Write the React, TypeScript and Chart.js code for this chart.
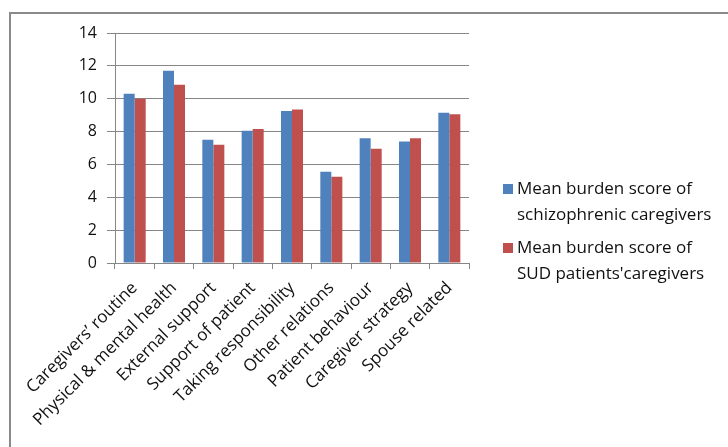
import React, { useEffect, useRef } from "react";
import { Chart, registerables } from "chart.js";

Chart.register(...registerables);

const categories = [
  "Caregivers’ routine",
  "Physical & mental health",
  "External support",
  "Support of patient",
  "Taking responsibility",
  "Other relations",
  "Patient behaviour",
  "Caregiver strategy",
  "Spouse related",
];
const schizophrenicScores = [10.3, 11.7, 7.5, 8.05, 9.25, 5.55, 7.6, 7.4, 9.15];
const sudScores = [10.0, 10.85, 7.2, 8.15, 9.35, 5.25, 6.95, 7.6, 9.05];
const seriesLabels = [
  "Mean burden score of schizophrenic caregivers",
  "Mean burden score of SUD patients'caregivers",
];
const legendLines = [
  ["Mean burden score of", "schizophrenic caregivers"],
  ["Mean burden score of", "SUD patients'caregivers"],
];
const yMin = 0;
const yMax = 14;
const yStep = 2;

const BLUE = "#4F81BD";
const RED = "#C0504D";
const GRID = "#868686";
const FONT = "'Open Sans'";

const legendPlugin = {
  id: "customLegend",
  afterDraw(chart: any) {
    const ctx = chart.ctx;
    ctx.save();
    ctx.font = `17px ${FONT}`;
    ctx.textBaseline = "middle";
    ctx.textAlign = "left";
    chart.data.datasets.forEach((ds: any, i: number) => {
      const cy = 189 + i * 59;
      ctx.fillStyle = ds.backgroundColor;
      ctx.fillRect(503, cy - 5, 10, 10);
      ctx.fillStyle = "#111";
      legendLines[i].forEach((line, j) => ctx.fillText(line, 517, cy + j * 26));
    });
    ctx.restore();
  },
};

export default function App() {
  const ref = useRef<HTMLCanvasElement>(null);
  useEffect(() => {
    if (!ref.current) return;
    const chart = new Chart(ref.current, {
      type: "bar",
      data: {
        labels: categories,
        datasets: [
          { label: seriesLabels[0], data: schizophrenicScores, backgroundColor: BLUE, borderWidth: 0 },
          { label: seriesLabels[1], data: sudScores, backgroundColor: RED, borderWidth: 0 },
        ],
      },
      options: {
        responsive: false,
        animation: false,
        layout: { padding: { left: 0, right: 259, top: 33, bottom: 0 } },
        plugins: {
          legend: { display: false },
          tooltip: { enabled: false },
        },
        datasets: { bar: { categoryPercentage: 0.56, barPercentage: 1 } },
        scales: {
          x: {
            grid: {
              display: true,
              offset: true,
              drawOnChartArea: false,
              drawTicks: true,
              tickLength: 6,
              color: GRID,
            },
            border: { display: true, color: GRID, width: 1 },
            ticks: {
              maxRotation: 45,
              minRotation: 45,
              autoSkip: false,
              padding: 9,
              color: "#111",
              font: { family: FONT, size: 17 },
            },
            afterFit(scale: any) {
              scale.height = 184;
            },
          },
          y: {
            min: yMin,
            max: yMax,
            ticks: {
              stepSize: yStep,
              color: "#111",
              padding: 10,
              font: { family: FONT, size: 16 },
            },
            grid: { color: GRID, tickLength: 8, drawTicks: true },
            border: { display: true, color: GRID, width: 1 },
            afterFit(scale: any) {
              scale.width = 115;
            },
          },
        },
      },
      plugins: [legendPlugin],
    });
    return () => chart.destroy();
  }, []);

  return (
    <div style={{ position: "absolute", left: 0, top: 0, width: 728, height: 447, background: "#fff", overflow: "hidden" }}>
      <div
        style={{
          position: "absolute",
          left: 9,
          top: 12,
          width: 740,
          height: 460,
          borderLeft: "2px solid #8a8a8a",
          borderTop: "2px solid #8a8a8a",
        }}
      />
      <canvas ref={ref} width={728} height={447} style={{ position: "absolute", left: 0, top: 0 }} />
    </div>
  );
}
